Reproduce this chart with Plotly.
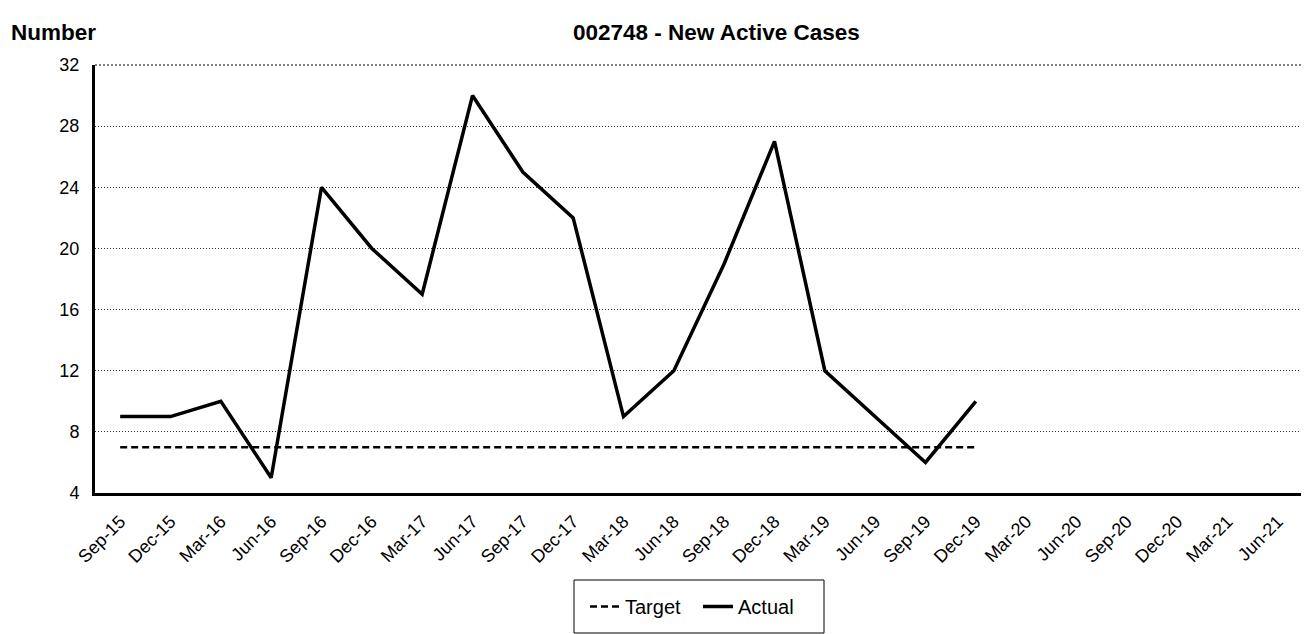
import plotly.graph_objects as go

categories = ["Sep-15", "Dec-15", "Mar-16", "Jun-16", "Sep-16", "Dec-16", "Mar-17", "Jun-17",
              "Sep-17", "Dec-17", "Mar-18", "Jun-18", "Sep-18", "Dec-18", "Mar-19", "Jun-19",
              "Sep-19", "Dec-19", "Mar-20", "Jun-20", "Sep-20", "Dec-20", "Mar-21", "Jun-21"]
actual = [9, 9, 10, 5, 24, 20, 17, 30, 25, 22, 9, 12, 19, 27, 12, 9, 6, 10]
target = [7] * 18
y_ticks = [4, 8, 12, 16, 20, 24, 28, 32]

W, H = 1309, 634
OFF = 8  # page body margin offset
# desired plot area in screen pixels
PL, PR, PT, PB = 95, 1303, 65, 493
L = PL - OFF
T = PT - OFF
R = W - (PR - OFF)
B = H - (PB - OFF)
pw = W - L - R
ph = H - T - B


def px_x(x):
    return (x - PL) / pw


def px_y(y):
    return (PB - y) / ph


font = "Arial, Liberation Sans, sans-serif"

fig = go.Figure()
fig.add_trace(go.Scatter(x=categories[:len(target)], y=target, mode="lines", name="Target",
                         line=dict(color="black", width=2.5, dash="7px,4px")))
fig.add_trace(go.Scatter(x=categories[:len(actual)], y=actual, mode="lines", name="Actual",
                         line=dict(color="black", width=3.5)))

fig.update_layout(
    width=W, height=H,
    margin=dict(l=L, r=R, t=T, b=B, autoexpand=False),
    plot_bgcolor="white", paper_bgcolor="white",
    font=dict(family=font, size=18, color="black"),
    showlegend=True,
    legend=dict(orientation="h", x=px_x(698), xanchor="center",
                y=px_y(606.5), yanchor="middle", entrywidth=68,
                borderwidth=0, bgcolor="rgba(0,0,0,0)", font=dict(size=20)),
)
fig.add_annotation(text="<b>Number</b>", xref="paper", yref="paper",
                   x=px_x(9), y=px_y(32), xanchor="left", yanchor="middle",
                   showarrow=False, font=dict(size=22.5))
fig.add_annotation(text="<b>002748 - New Active Cases</b>", xref="paper", yref="paper",
                   x=px_x(716), y=px_y(32), xanchor="center", yanchor="middle",
                   showarrow=False, font=dict(size=22.5))

fig.update_xaxes(type="category", categoryorder="array", categoryarray=categories,
                 range=[-0.5, len(categories) - 0.5], tickangle=-45, automargin=False,
                 showline=True, linecolor="black", linewidth=3, mirror=False,
                 showgrid=False, ticks="", ticklabelstandoff=8, tickfont=dict(size=18))
fig.update_yaxes(range=[4, 32], tickvals=y_ticks, automargin=False,
                 showline=True, linecolor="black", linewidth=3,
                 showgrid=True, gridcolor="#333333", gridwidth=1, griddash="1px,2px",
                 ticks="", zeroline=False, ticklabelstandoff=9, tickfont=dict(size=18))
# right border and top line
fig.add_shape(type="line", xref="paper", yref="paper", x0=1, x1=1, y0=0, y1=1,
              line=dict(color="#777777", width=1.5))
fig.add_shape(type="line", xref="paper", yref="paper", x0=0, x1=1, y0=1, y1=1,
              line=dict(color="#555555", width=1.5, dash="2px,2px"))
# legend box
fig.add_shape(type="rect", xref="paper", yref="paper",
              x0=px_x(574), x1=px_x(824), y0=px_y(580), y1=px_y(633),
              line=dict(color="black", width=1))

fig.write_html("out.html")
